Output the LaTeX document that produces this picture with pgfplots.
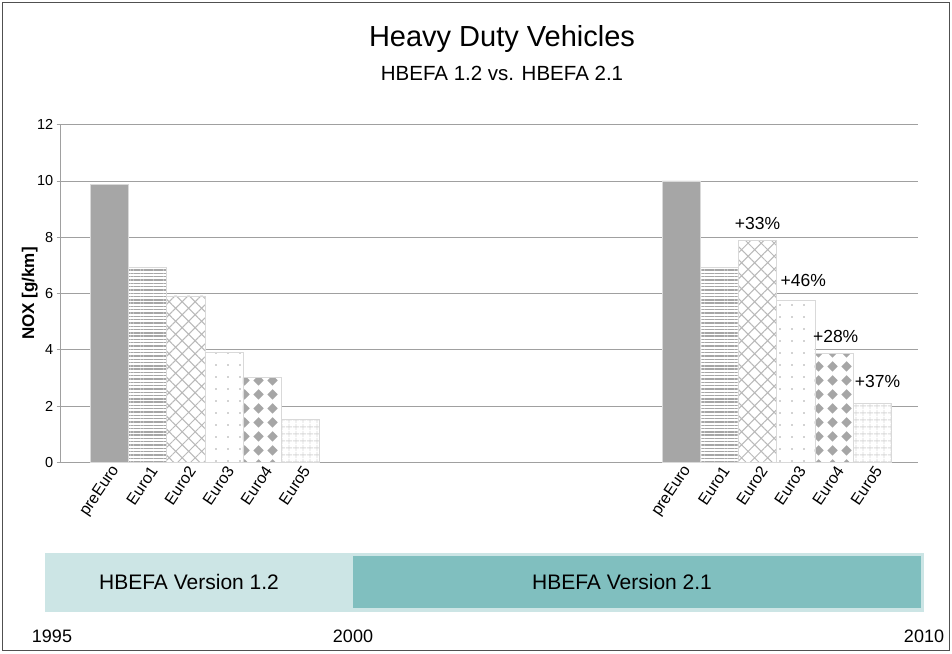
\documentclass[border=0pt]{standalone}
\usepackage{pgfplots}
\pgfplotsset{compat=1.18}
\usepackage{fontspec}
\setmainfont{Liberation Sans}
\usetikzlibrary{patterns,patterns.meta}

\definecolor{bargray}{HTML}{A6A6A6}
\definecolor{bordergray}{HTML}{D9D9D9}
\definecolor{gridgray}{HTML}{A0A0A0}
\definecolor{lightteal}{HTML}{CCE5E5}
\definecolor{darkteal}{HTML}{80BFBF}
\definecolor{framegray}{HTML}{505050}

\tikzdeclarepattern{name=mydiamonds, type=uncolored,
  bottom left={(0pt,0pt)}, top right={(14pt,14pt)}, tile size={(14pt,14pt)},
  code={\fill (7pt,1.5pt) -- (12.5pt,7pt) -- (7pt,12.5pt) -- (1.5pt,7pt) -- cycle;}}
\tikzdeclarepattern{name=mygrid, type=uncolored,
  bottom left={(0pt,0pt)}, top right={(6.5pt,6.5pt)}, tile size={(6.5pt,6.5pt)},
  code={\draw[line width=1pt] (0pt,3.25pt) -- (6.5pt,3.25pt) (3.25pt,0pt) -- (3.25pt,6.5pt);}}

\begin{document}
\begin{tikzpicture}
\draw[framegray, line width=1.2pt] (2.5pt,2.5pt) rectangle (949.5pt,650.5pt);
\node[font=\fontsize{29}{33}\selectfont] at (502pt,614pt) {Heavy Duty Vehicles};
\node[font=\fontsize{20.5}{24}\selectfont] at (502pt,580pt) {HBEFA 1.2 vs. HBEFA 2.1};
\begin{axis}[
  at={(60.7pt,190.7pt)}, anchor=south west,
  scale only axis, width=857.3pt, height=337.6pt,
  xmin=-1.28, xmax=21.21, ymin=0, ymax=12,
  ytick={0,2,...,12},
  xtick={0,1,2,3,4,5,15,16,17,18,19,20},
  xticklabels={preEuro,Euro1,Euro2,Euro3,Euro4,Euro5,preEuro,Euro1,Euro2,Euro3,Euro4,Euro5},
  axis x line*=bottom, axis y line*=left,
  axis line style={gridgray, line width=0.8pt},
  ymajorgrids, grid style={gridgray, line width=0.8pt},
  xtick style={draw=none},
  ytick style={gridgray, line width=0.8pt},
  tick align=outside, major tick length=4pt,
  /pgf/number format/assume math mode=true,
  yticklabel style={font=\fontsize{14.5}{17}\selectfont},
  xticklabel style={font=\fontsize{16}{18}\selectfont, rotate=56, anchor=east, xshift=6pt, yshift=-6pt},
  ylabel={NOX [g/km]},
  ylabel style={font=\bfseries\fontsize{17}{19}\selectfont, at={(axis description cs:-0.036,0.5)}, anchor=center},
]
\addplot[ybar, bar width=1, bar shift=0pt, fill=bargray, draw=bordergray] coordinates {(0,9.88) (15,10.0)};
\addplot[ybar, bar width=1, bar shift=0pt, fill=white, draw=bordergray, postaction={pattern={Lines[angle=0,distance=3.3pt,line width=1.4pt]}, pattern color=bargray}] coordinates {(1,6.93) (16,6.93)};
\addplot[ybar, bar width=1, bar shift=0pt, fill=white, draw=bordergray, postaction={pattern={Hatch[angle=45,distance=9.2pt,line width=1pt]}, pattern color=gray!55}] coordinates {(2,5.92) (17,7.88)};
\addplot[ybar, bar width=1, bar shift=0pt, fill=white, draw=bordergray, postaction={pattern={Dots[distance=12pt,radius=0.8pt]}, pattern color=gray!70}] coordinates {(3,3.93) (18,5.77)};
\addplot[ybar, bar width=1, bar shift=0pt, fill=white, draw=bordergray, postaction={pattern=mydiamonds, pattern color=bargray}] coordinates {(4,3.02) (19,3.87)};
\addplot[ybar, bar width=1, bar shift=0pt, fill=white, draw=bordergray, postaction={pattern=mygrid, pattern color=bordergray}] coordinates {(5,1.53) (20,2.10)};
\node[font=\fontsize{17.5}{20}\selectfont] at (axis cs:17,8.5) {+33\%};
\node[font=\fontsize{17.5}{20}\selectfont] at (axis cs:18.2,6.48) {+46\%};
\node[font=\fontsize{17.5}{20}\selectfont] at (axis cs:19.05,4.49) {+28\%};
\node[font=\fontsize{17.5}{20}\selectfont] at (axis cs:20.15,2.89) {+37\%};
\end{axis}
\fill[lightteal] (45pt,41.3pt) rectangle (923.5pt,100.3pt);
\fill[darkteal] (352.7pt,44.7pt) rectangle (921pt,97.3pt);
\node[font=\fontsize{21}{24}\selectfont] at (189pt,71pt) {HBEFA Version 1.2};
\node[font=\fontsize{21}{24}\selectfont] at (622pt,71pt) {HBEFA Version 2.1};
\node[font=\fontsize{18}{21}\selectfont] at (52pt,17pt) {1995};
\node[font=\fontsize{18}{21}\selectfont] at (353pt,17pt) {2000};
\node[font=\fontsize{18}{21}\selectfont] at (924pt,17pt) {2010};
\pgfresetboundingbox
\path[use as bounding box] (0pt,0pt) rectangle (952pt,653pt);
\end{tikzpicture}
\end{document}
